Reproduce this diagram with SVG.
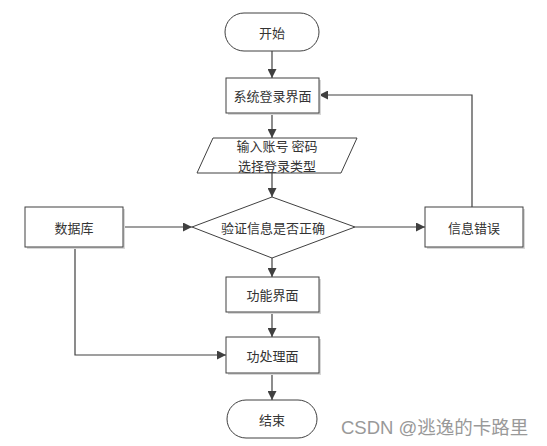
<svg xmlns="http://www.w3.org/2000/svg" width="547" height="446" viewBox="0 0 547 446">
<defs>
<marker id="arr" viewBox="0 0 10 10" refX="10" refY="5" markerWidth="9" markerHeight="9" markerUnits="userSpaceOnUse" orient="auto">
<path d="M0,0 L10,5 L0,10 z" fill="#404040"/>
</marker>
</defs>
<style>
.shape{fill:#fff;stroke:#404040;stroke-width:1}
.shadow{fill:#d8d8d8;stroke:none}
.lbl{font-family:"Noto Sans CJK SC",sans-serif;font-size:13px;fill:#333;text-anchor:middle;dominant-baseline:central}
.conn{fill:none;stroke:#404040;stroke-width:1.2;marker-end:url(#arr)}
.wm{font-family:"Liberation Sans","Noto Sans CJK SC",sans-serif;font-size:18.5px;fill:#999}
</style>
<rect width="547" height="446" fill="#fff"/>
<g id="connectors">
<path class="conn" d="M272,51 V78"/>
<path class="conn" d="M272,113 V138"/>
<path class="conn" d="M272,173 V197"/>
<path class="conn" d="M123,227 H192"/>
<path class="conn" d="M355,227 H425"/>
<path class="conn" d="M472,207 V95 H319"/>
<path class="conn" d="M272,258 V277"/>
<path class="conn" d="M272,312 V337"/>
<path class="conn" d="M75,247 V355 H226"/>
<path class="conn" d="M272,373 V400"/>
</g>
<g id="start">
<rect class="shape" x="225" y="13" width="94" height="38" rx="19"/>
<text class="lbl" x="272" y="32">开始</text>
</g>
<g id="login">
<rect class="shadow" x="228" y="80" width="93" height="35"/>
<rect class="shape" x="226" y="78" width="93" height="35"/>
<text class="lbl" x="272.5" y="95.5">系统登录界面</text>
</g>
<g id="input">
<polygon class="shape" points="213,138 357,138 341,173 197,173"/>
<text class="lbl" x="277" y="145.5">输入账号 密码</text>
<text class="lbl" x="277" y="165">选择登录类型</text>
</g>
<g id="db">
<rect class="shadow" x="27" y="209" width="98" height="40"/>
<rect class="shape" x="25" y="207" width="98" height="40"/>
<text class="lbl" x="74" y="227">数据库</text>
</g>
<g id="check">
<polygon class="shape" points="272,197 355,227 272,258 192,227"/>
<text class="lbl" x="273" y="227">验证信息是否正确</text>
</g>
<g id="error">
<rect class="shadow" x="427" y="209" width="98" height="40"/>
<rect class="shape" x="425" y="207" width="98" height="40"/>
<text class="lbl" x="474" y="227">信息错误</text>
</g>
<g id="func">
<rect class="shadow" x="228" y="279" width="93" height="35"/>
<rect class="shape" x="226" y="277" width="93" height="35"/>
<text class="lbl" x="272.5" y="294.5">功能界面</text>
</g>
<g id="process">
<rect class="shadow" x="228" y="339" width="93" height="36"/>
<rect class="shape" x="226" y="337" width="93" height="36"/>
<text class="lbl" x="272.5" y="355">功处理面</text>
</g>
<g id="end">
<rect class="shape" x="227" y="400" width="90" height="38" rx="19"/>
<text class="lbl" x="272" y="419">结束</text>
</g>
<text class="wm" x="341" y="434">CSDN @逃逸的卡路里</text>
</svg>
